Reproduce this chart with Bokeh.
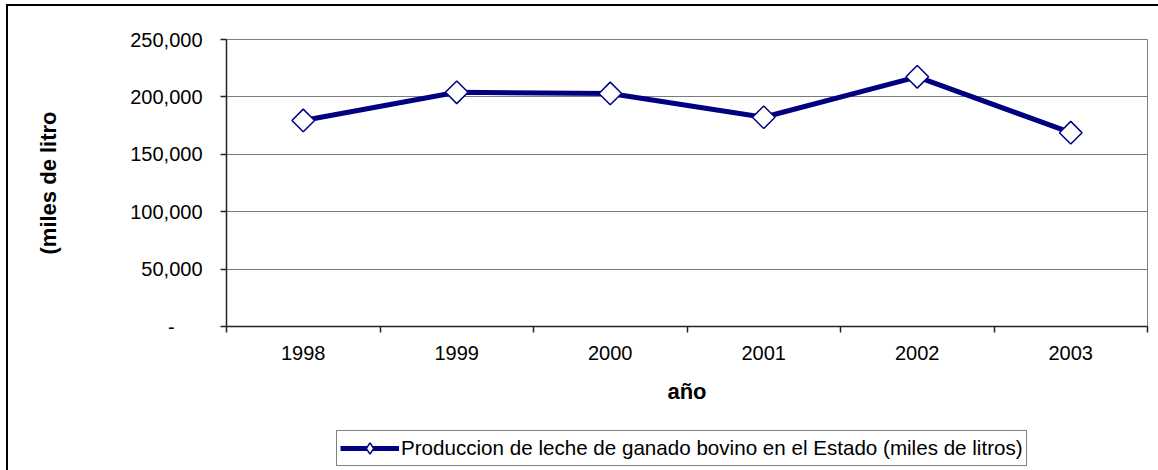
from bokeh.plotting import figure
from bokeh.layouts import column
from bokeh.models import (Range1d, FixedTicker, CustomJSTickFormatter,
                          Legend, LegendItem, ColumnDataSource)
from bokeh.embed import file_html
from bokeh.resources import INLINE

# ---- data ----
years = ["1998", "1999", "2000", "2001", "2002", "2003"]
produccion = [179500, 204000, 203000, 182300, 217500, 168800]
series_name = "Produccion de leche de ganado bovino en el Estado (miles de litros)"
y_ticks = [0, 50000, 100000, 150000, 200000, 250000]
y_labels = ["-\u00a0\u00a0\u00a0\u00a0\u00a0", "50,000", "100,000", "150,000", "200,000", "250,000"]
x_title = "año"
y_title = "(miles de litro"

FONT = "Liberation Sans"
NAVY = "#000080"

xs = [i + 0.5 for i in range(len(years))]
src = ColumnDataSource(dict(x=xs, y=produccion, year=years))

# ---------------- main chart ----------------
fig = figure(width=1158, height=420,
             x_range=Range1d(0, len(years)), y_range=Range1d(0, y_ticks[-1]),
             output_backend="svg", toolbar_location=None,
             min_border_left=226, min_border_right=11, min_border_top=39, min_border_bottom=94)
fig.background_fill_color = "white"
fig.border_fill_color = None
fig.outline_line_color = "#808080"
fig.outline_line_width = 1

fig.xgrid.visible = False
fig.ygrid.grid_line_color = "#7a7a7a"
fig.ygrid.grid_line_width = 1
fig.ygrid.ticker = FixedTicker(ticks=y_ticks)

xa = fig.xaxis[0]
xa.ticker = FixedTicker(ticks=xs, minor_ticks=list(range(len(years) + 1)))
xa.formatter = CustomJSTickFormatter(args=dict(labels=years),
                                     code="return labels[Math.round(tick - 0.5)];")
xa.major_tick_out = 0
xa.major_tick_in = 0
xa.minor_tick_out = 6
xa.minor_tick_in = 0
xa.minor_tick_line_color = "#222222"
xa.minor_tick_line_width = 1.5
xa.axis_line_color = "#222222"
xa.axis_line_width = 1.5
xa.major_label_text_font = FONT
xa.major_label_text_font_size = "20px"
xa.major_label_text_color = "black"
xa.major_label_standoff = 13
xa.axis_label = x_title
xa.axis_label_text_font = FONT
xa.axis_label_text_font_size = "22px"
xa.axis_label_text_font_style = "bold"
xa.axis_label_text_color = "black"
xa.axis_label_standoff = 16

ya = fig.yaxis[0]
ya.ticker = FixedTicker(ticks=y_ticks)
ya.formatter = CustomJSTickFormatter(args=dict(vals=y_ticks, labels=y_labels),
                                     code="const i = vals.indexOf(tick); return i >= 0 ? labels[i] : '';")
ya.major_tick_out = 6
ya.major_tick_in = 0
ya.minor_tick_out = 0
ya.minor_tick_in = 0
ya.major_tick_line_color = "#222222"
ya.major_tick_line_width = 1.5
ya.axis_line_color = "#222222"
ya.axis_line_width = 1.5
ya.major_label_text_font = FONT
ya.major_label_text_font_size = "20px"
ya.major_label_text_color = "black"
ya.major_label_standoff = 18
ya.axis_label = y_title
ya.axis_label_text_font = FONT
ya.axis_label_text_font_size = "22px"
ya.axis_label_text_font_style = "bold"
ya.axis_label_text_color = "black"
ya.axis_label_standoff = 66

fig.line("x", "y", source=src, line_color=NAVY, line_width=5)
fig.scatter("x", "y", source=src, marker="square", angle=0.785398, size=16,
            fill_color="white", line_color=NAVY, line_width=1.5)

# ---------------- legend strip (frame aligned with the chart's frame) ----------------
leg = figure(width=1158, height=50, x_range=Range1d(-10, -9), y_range=Range1d(-10, -9),
             x_axis_type=None, y_axis_type=None,
             output_backend="svg", toolbar_location=None,
             min_border_left=0, min_border_right=0, min_border_top=0, min_border_bottom=0)
leg.background_fill_color = None
leg.border_fill_color = None
leg.outline_line_color = None
leg.grid.visible = False
# same series, outside this strip's view: only their legend samples show
l_line = leg.line("x", "y", source=src, line_color=NAVY, line_width=5)
l_pts = leg.scatter("x", "y", source=src, marker="diamond", size=16,
                    fill_color="white", line_color=NAVY, line_width=1.5)
legend = Legend(items=[LegendItem(label=series_name, renderers=[l_line, l_pts])],
                location=(110, 4), orientation="horizontal",
                border_line_color="black", border_line_width=1,
                background_fill_color="white", background_fill_alpha=1,
                label_text_font=FONT, label_text_font_size="20.6px", label_text_color="black",
                glyph_width=59, glyph_height=28, label_standoff=2,
                padding=3, margin=0, spacing=0)
leg.add_layout(legend)

p = column(fig, leg, spacing=0)
# outer chart-area frame (left and top edges visible, the rest runs off the picture)
p.styles = {
    "background-image": "linear-gradient(#000, #000), linear-gradient(#000, #000)",
    "background-size": "2px 100%, 100% 2px",
    "background-position": "6px 4px, 6px 4px",
    "background-repeat": "no-repeat",
}

open("out.html", "w").write(file_html(p, INLINE))
